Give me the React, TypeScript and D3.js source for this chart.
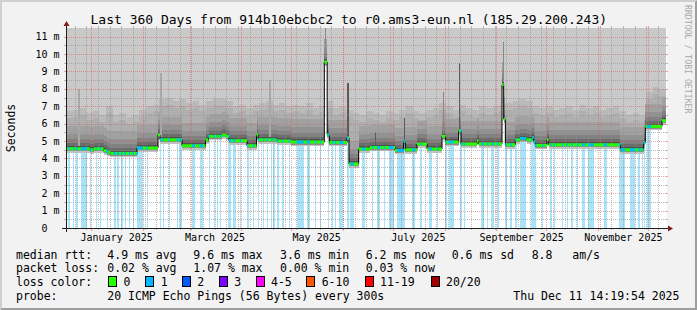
import React from "react";
import * as d3 from "d3";

// ---------- data ----------
const TITLE = "Last 360 Days from 914b10ebcbc2 to r0.ams3-eun.nl (185.29.200.243)";
const Y_TITLE = "Seconds";
const WATERMARK = "RRDTOOL / TOBI OETIKER";
const START = new Date(2024, 11, 16, 14, 19, 54);
const END = new Date(2025, 11, 11, 14, 19, 54);
const JAN1 = new Date(2025, 0, 1);
const Y_MAX = 11.5;
const Y_TICKS = [0, 1, 2, 3, 4, 5, 6, 7, 8, 9, 10, 11];
const Y_TICK_LABELS = ["0", "1 m", "2 m", "3 m", "4 m", "5 m", "6 m", "7 m", "8 m", "9 m", "10 m", "11 m"];

// median rtt: [days since 2025-01-01, ms] (step after)
const MEDIAN_STEPS: [number, number][] = [
  [-15.4, 4.56], [-1.2, 4.5], [1.2, 4.56], [7.2, 4.44], [9.2, 4.35], [11.2, 4.29],
  [27.2, 4.6], [39.8, 5.35], [41.0, 5.07], [54.2, 4.73], [68.3, 5.07], [70.1, 5.27],
  [78.2, 5.35], [80.6, 5.27], [82.4, 5.02], [93.2, 4.73], [98.9, 5.35], [99.8, 5.07],
  [111.0, 5.0], [119.6, 4.94], [139.6, 9.54], [141.3, 5.36], [142.6, 4.92], [153.2, 5.17],
  [154.4, 3.68], [160.2, 4.54], [167.0, 4.63], [182.0, 4.46], [187.2, 4.98], [188.2, 4.5],
  [195.2, 4.83], [201.2, 4.54], [210.2, 5.27], [212.2, 4.94], [220.2, 5.59], [221.6, 4.83],
  [231.2, 5.0], [232.2, 4.84], [246.2, 8.24], [247.2, 6.26], [248.2, 4.79], [254.2, 5.07],
  [257.0, 5.15], [261.0, 5.07], [264.2, 5.2], [265.1, 4.95], [266.2, 4.75], [273.2, 5.07],
  [274.2, 4.79], [317.2, 4.5], [331.2, 4.9], [332.2, 5.84], [342.2, 6.17],
];

// periods with 1/20 packet loss: [from, to] days since 2025-01-01
const LOSS_BARS: [number, number][] = [
  [-14.2, -13.3], [-11.2, -10.6], [-9.4, -8.5], [-6.4, -2.8], [-1.0, -0.4], [2.3, 3.2], [5.0, 5.6],
  [8.9, 9.5], [13.1, 14.3], [15.2, 16.4], [17.6, 18.5], [19.7, 20.6], [22.2, 23.0], [24.5, 25.4],
  [26.9, 30.8], [32.9, 33.8], [41.0, 41.6], [42.5, 43.1], [46.1, 47.0], [50.9, 51.5], [52.2, 53.9],
  [60.2, 62.0], [64.7, 66.8], [70.1, 70.7], [73.1, 73.7], [75.2, 75.8], [77.0, 77.6], [82.0, 83.6],
  [85.0, 86.3], [89.0, 89.6], [93.2, 94.1], [96.8, 97.4], [99.8, 100.4], [102.8, 103.4], [104.9, 105.5],
  [107.6, 108.2], [109.0, 109.4], [111.2, 112.1], [114.2, 115.1], [118.2, 119.0], [123.0, 127.2],
  [129.0, 131.0], [134.0, 134.6], [137.0, 137.6], [141.8, 142.4], [144.2, 144.8], [146.0, 146.6],
  [148.6, 151.0], [153.2, 154.1], [155.2, 157.2], [162.2, 164.2], [168.2, 168.8], [171.2, 173.2],
  [175.2, 176.0], [178.2, 181.2], [183.2, 188.2], [192.2, 194.2], [197.2, 197.9], [202.2, 204.2],
  [207.2, 207.8], [212.2, 212.9], [214.2, 217.2], [221.2, 221.9], [223.2, 224.0], [233.8, 235.2],
  [237.2, 237.8], [239.8, 241.2], [243.2, 244.2], [248.2, 249.2], [251.2, 251.9], [254.2, 254.9],
  [257.2, 260.6], [263.8, 266.6], [270.2, 270.8], [275.2, 275.9], [277.2, 278.0], [282.2, 282.8],
  [285.0, 285.6], [287.8, 288.7], [291.2, 291.8], [294.0, 296.0], [298.0, 301.2], [307.1, 309.2],
  [316.2, 320.0], [323.0, 326.2], [328.0, 329.2], [330.0, 330.6], [331.2, 332.2], [333.2, 335.6],
];

// upper edge of the dense smoke (ms), one value per 4 days from day -15.4
const SMOKE_HIGH_START = -15.4;
const SMOKE_HIGH_STEP = 4;
const SMOKE_HIGH = [
  6.7, 6.8, 6.9, 6.6, 6.7, 6.5, 7.0, 6.5, 6.6, 6.4, 6.5, 6.8, 7.0, 7.1, 7.4, 7.5, 7.3, 7.4, 7.2,
  7.3, 7.1, 7.3, 7.5, 7.4, 7.3, 7.0, 7.1, 6.9, 7.1, 7.2, 7.3, 7.1, 7.2, 7.0, 7.1, 7.0, 7.2, 6.9,
  7.0, 7.3, 6.9, 7.0, 6.8, 6.6, 6.5, 6.7, 6.6, 6.5, 6.7, 6.6, 6.8, 7.0, 6.7, 6.6, 6.8, 6.9, 7.2,
  7.0, 6.8, 7.1, 6.9, 6.8, 7.0, 6.9, 7.0, 7.1, 7.2, 7.3, 7.4, 7.3, 7.0, 6.9, 7.0, 6.8, 6.9, 7.0,
  6.8, 7.1, 6.9, 7.0, 6.8, 6.9, 7.0, 6.7, 6.5, 6.6, 6.5, 7.8, 8.1, 8.0, 8.2,
];

// isolated smoke spikes: [day, top ms, shade level 0=dark..2=light]
const SMOKE_SPIKES: [number, number, number][] = [
  [-8.0, 8.0, 2], [41.0, 8.9, 2], [106.5, 8.5, 2], [139.8, 11.5, 1], [153.2, 8.35, 0],
  [169.8, 5.5, 0], [187.3, 6.3, 0], [210.5, 7.8, 1], [220.3, 9.5, 0], [246.5, 10.7, 1],
];

const LOSS_LABELS = ["0", "1", "2", "3", "4-5", "6-10", "11-19", "20/20"];
const LOSS_COLORS = ["#26ff00", "#00b8ff", "#0059ff", "#7e00ff", "#ff00ff", "#ff5500", "#ff0000", "#a10000"];
const RTT_STATS = ["4.9 ms avg", "9.6 ms max", "3.6 ms min", "6.2 ms now", "0.6 ms sd", "8.8", "am/s"];
const LOSS_STATS = ["0.02 % avg", "1.07 % max", "0.00 % min", "0.03 % now"];
const PROBE_TEXT = "20 ICMP Echo Pings (56 Bytes) every 300s";
const TIMESTAMP = "Thu Dec 11 14:19:54 2025";

// ---------- layout ----------
const W = 697, H = 310;
const X0 = 66, XS = 600, Y0 = 228, YS = 200;
const FONT = "'DejaVu Sans Mono', monospace";
const RTT_COLS = [107.3, 193.3, 280, 365.7, 451.7, 531.7, 572.3];
const LOSS_BOX_X = [108.5, 145.7, 182.3, 219.3, 256, 306.7, 365, 431];
const ROW_Y = [258.5, 272.3, 286, 299.8];

const dayToDate = (d: number) => new Date(JAN1.getTime() + d * 864e5);
const START_DAY = (START.getTime() - JAN1.getTime()) / 864e5;
const END_DAY = (END.getTime() - JAN1.getTime()) / 864e5;

function medianAt(t: number) {
  let v = MEDIAN_STEPS[0][1];
  for (const s of MEDIAN_STEPS) if (s[0] <= t + 1e-9) v = s[1];
  return v;
}
function highAt(t: number) {
  const k = Math.max(0, Math.min(SMOKE_HIGH.length - 1, Math.floor((t - SMOKE_HIGH_START) / SMOKE_HIGH_STEP + 1e-9)));
  return SMOKE_HIGH[k];
}

type Pt = { t: number; m: number; h: number };

const SMOKE_LAYERS: [(p: Pt) => number, (p: Pt) => number, string][] = [
  [(p) => p.m - 0.22, (p) => p.m - 0.14, "#c2c2c2"],
  [(p) => p.m - 0.14, (p) => p.m - 0.07, "#8e8e8e"],
  [(p) => p.m - 0.07, (p) => p.m + 0.15, "#505050"],
  [(p) => p.m + 0.15, (p) => p.m + 0.32, "#6c6c6c"],
  [(p) => p.m + 0.32, (p) => p.m + 0.55, "#818181"],
  [(p) => p.m + 0.55, (p) => p.m + 0.85, "#929292"],
  [(p) => p.m + 0.85, (p) => p.m + 1.3, "#a1a1a1"],
  [(p) => p.m + 1.3, (p) => Math.max(p.m + 1.3, p.h - 0.4), "#afafaf"],
  [(p) => Math.max(p.m + 1.3, p.h - 0.4), (p) => Math.max(p.m + 1.3, p.h), "#bababa"],
  [(p) => Math.max(p.m + 1.3, p.h), () => Y_MAX, "#c9c9c9"],
];
const SPIKE_SHADES = ["#5a5a5a", "#888888", "#a8a8a8"];

export default function App() {
  const x = d3.scaleTime().domain([START, END]).range([X0, X0 + XS]);
  const y = d3.scaleLinear().domain([0, Y_MAX]).range([Y0, Y0 - YS]);
  const xd = (d: number) => x(dayToDate(d));
  const yc = (v: number) => y(Math.max(0, Math.min(Y_MAX, v)));

  // smoke breakpoints
  const bp = new Set<number>([START_DAY]);
  MEDIAN_STEPS.forEach((s) => { if (s[0] > START_DAY && s[0] < END_DAY) bp.add(s[0]); });
  SMOKE_HIGH.forEach((_, k) => {
    const t = SMOKE_HIGH_START + k * SMOKE_HIGH_STEP;
    if (t > START_DAY && t < END_DAY) bp.add(t);
  });
  const ts = Array.from(bp).sort((a, b) => a - b);
  const pts: Pt[] = ts.map((t) => ({ t, m: medianAt(t), h: highAt(t) }));
  pts.push({ ...pts[pts.length - 1], t: END_DAY });

  const smokePaths = SMOKE_LAYERS.map(([lo, hi, col]) => {
    const a = d3.area<Pt>()
      .x((p) => xd(p.t))
      .y0((p) => yc(lo(p)))
      .y1((p) => yc(hi(p)))
      .curve(d3.curveStepAfter);
    return { d: a(pts) || "", col };
  });

  // median segments
  const segs = MEDIAN_STEPS.map((s, i) => ({
    a: Math.max(START_DAY, s[0]),
    b: i < MEDIAN_STEPS.length - 1 ? MEDIAN_STEPS[i + 1][0] : END_DAY,
    v: s[1],
  }));
  const medianLine = d3.line<{ t: number; v: number }>()
    .x((p) => xd(p.t)).y((p) => y(p.v)).curve(d3.curveStepAfter)(
      [...segs.map((s) => ({ t: s.a, v: s.v })), { t: END_DAY, v: segs[segs.length - 1].v }]
    ) || "";
  const blueSegs: { a: number; b: number; v: number }[] = [];
  LOSS_BARS.forEach(([la, lb]) => {
    segs.forEach((s) => {
      const a = Math.max(la, s.a), b = Math.min(lb, s.b);
      if (b > a) blueSegs.push({ a, b, v: s.v });
    });
  });

  // grid
  const px = (v: number) => Math.round(v) + 0.5;
  const hGrid: { v: number; major: boolean }[] = [];
  for (let v = 0.5; v <= Y_MAX - 0.25; v += 0.5) hGrid.push({ v, major: Math.abs(v - Math.round(v)) < 1e-6 });
  const weeks = d3.timeSunday.range(START, END);
  const months = d3.timeMonth.range(START, END);
  const labelMonths = d3.timeMonth.every(2)!.range(START, END);
  const fmt = d3.timeFormat("%B %Y");

  const GRID = "rgba(143,143,143,0.6)";
  const MGRID = "rgba(222,79,79,0.5)";
  const top = Y0 - YS;

  return (
    <svg width={W} height={H} viewBox={`0 0 ${W} ${H}`}
      style={{ position: "absolute", left: 0, top: 0, display: "block" }} fontFamily={FONT}>
      {/* background & frame */}
      <rect x={0} y={0} width={W} height={H} fill="#f2f2f2" />
      <polygon points={`0,0 ${W},0 ${W - 2},2 2,2 2,${H - 2} 0,${H}`} fill="#cfcfcf" />
      <polygon points={`${W},0 ${W},${H} 0,${H} 2,${H - 2} ${W - 2},${H - 2} ${W - 2},2`} fill="#9e9e9e" />
      <rect x={X0} y={top} width={XS + 1} height={YS} fill="#ffffff" />

      {/* loss bars */}
      <g shapeRendering="crispEdges">
        {LOSS_BARS.map(([a, b], i) => (
          <rect key={i} x={xd(a)} y={top} width={Math.max(1.3, xd(b) - xd(a))} height={YS} fill="#a9e3f8" />
        ))}
      </g>

      {/* smoke */}
      <g shapeRendering="crispEdges">
        {smokePaths.map((s, i) => <path key={i} d={s.d} fill={s.col} />)}
        {SMOKE_SPIKES.map(([d, tp, lvl], i) => {
          const m = medianAt(d);
          return (
            <rect key={i} x={xd(d)} y={yc(tp)} width={1.6}
              height={Math.max(0, yc(m + 0.15) - yc(tp))} fill={SPIKE_SHADES[lvl]} />
          );
        })}
      </g>

      {/* grid */}
      <g shapeRendering="crispEdges">
        {hGrid.map((g, i) => {
          const yy = px(y(g.v));
          const c = g.major ? MGRID : GRID;
          return (
            <g key={"h" + i}>
              <line x1={X0 + 1} x2={X0 + XS} y1={yy} y2={yy} stroke={c} strokeDasharray="1,1" />
              <line x1={X0 - 2} x2={X0} y1={yy} y2={yy} stroke={c} />
              <line x1={X0 + XS} x2={X0 + XS + 2} y1={yy} y2={yy} stroke={c} />
            </g>
          );
        })}
        {weeks.map((w, i) => {
          const xx = px(x(w) - 0.5);
          return (
            <g key={"w" + i}>
              <line x1={xx} x2={xx} y1={top} y2={Y0} stroke={GRID} strokeDasharray="1,1" />
              <line x1={xx} x2={xx} y1={Y0} y2={Y0 + 2} stroke={GRID} />
              <line x1={xx} x2={xx} y1={top - 2} y2={top} stroke={GRID} />
            </g>
          );
        })}
        {months.map((m, i) => {
          const xx = px(x(m) - 0.5);
          return (
            <g key={"m" + i}>
              <line x1={xx} x2={xx} y1={top} y2={Y0} stroke={MGRID} strokeDasharray="1,1" />
              <line x1={xx} x2={xx} y1={Y0} y2={Y0 + 3} stroke={MGRID} />
              <line x1={xx} x2={xx} y1={top - 2} y2={top} stroke={MGRID} />
            </g>
          );
        })}
      </g>

      {/* median */}
      <path d={medianLine} fill="none" stroke="#000000" strokeWidth={1} />
      <g strokeWidth={3}>
        {segs.map((s, i) => (
          <line key={i} x1={xd(s.a)} x2={xd(s.b)} y1={y(s.v)} y2={y(s.v)} stroke={LOSS_COLORS[0]} />
        ))}
        {blueSegs.map((s, i) => (
          <line key={"b" + i} x1={xd(s.a)} x2={Math.max(xd(s.b), xd(s.a) + 1.3)} y1={y(s.v)} y2={y(s.v)} stroke={LOSS_COLORS[1]} />
        ))}
      </g>

      {/* axes */}
      <g shapeRendering="crispEdges">
        <line x1={X0 - 4} x2={X0 + XS + 4} y1={Y0 + 0.5} y2={Y0 + 0.5} stroke="#1f1f1f" />
        <line x1={X0 + 0.5} x2={X0 + 0.5} y1={Y0 + 4} y2={top - 4} stroke="#1f1f1f" />
      </g>
      <polygon points={`${X0 + XS + 2},${Y0 - 3 + 0.5} ${X0 + XS + 2},${Y0 + 3 + 0.5} ${X0 + XS + 7},${Y0 + 0.5}`} fill="#801f1f" />
      <polygon points={`${X0 - 3 + 0.5},${top - 2} ${X0 + 3 + 0.5},${top - 2} ${X0 + 0.5},${top - 7}`} fill="#801f1f" />

      {/* tick labels */}
      <g fontSize={10} fill="#000">
        {Y_TICKS.map((v, i) => (
          <text key={i} x={v === 0 ? 47.5 : 59.5} y={y(v) + 3.6} textAnchor="end">{Y_TICK_LABELS[i]}</text>
        ))}
        {labelMonths.map((m, i) => (
          <text key={"x" + i} x={x(d3.timeDay.offset(m, 15))} y={241.3} textAnchor="middle">{fmt(m)}</text>
        ))}
      </g>

      {/* titles */}
      <text x={348.8} y={23.5} textAnchor="middle" fontSize={13} fill="#000">{TITLE}</text>
      <text transform="translate(15,128) rotate(-90)" textAnchor="middle" fontSize={11.5} fill="#000">{Y_TITLE}</text>
      <text transform="translate(685,5) rotate(90)" textAnchor="start" fontSize={8.2} fill="#a9a9a9">{WATERMARK}</text>

      {/* legend */}
      <g fontSize={11.5} fill="#000">
        <text x={16} y={ROW_Y[0]}>median rtt:</text>
        {RTT_STATS.map((s, i) => <text key={"r" + i} x={RTT_COLS[i]} y={ROW_Y[0]}>{s}</text>)}
        <text x={16} y={ROW_Y[1]}>packet loss:</text>
        {LOSS_STATS.map((s, i) => <text key={"l" + i} x={RTT_COLS[i]} y={ROW_Y[1]}>{s}</text>)}
        <text x={16} y={ROW_Y[2]}>loss color:</text>
        {LOSS_LABELS.map((s, i) => (
          <g key={"c" + i}>
            <rect x={LOSS_BOX_X[i]} y={276.5} width={8} height={9.5} fill={LOSS_COLORS[i]} stroke="#000" strokeWidth={1} shapeRendering="crispEdges" />
            <text x={LOSS_BOX_X[i] + 15} y={ROW_Y[2]}>{s}</text>
          </g>
        ))}
        <text x={16} y={ROW_Y[3]}>probe:</text>
        <text x={RTT_COLS[0]} y={ROW_Y[3]}>{PROBE_TEXT}</text>
        <text x={513.3} y={ROW_Y[3]}>{TIMESTAMP}</text>
      </g>
    </svg>
  );
}
